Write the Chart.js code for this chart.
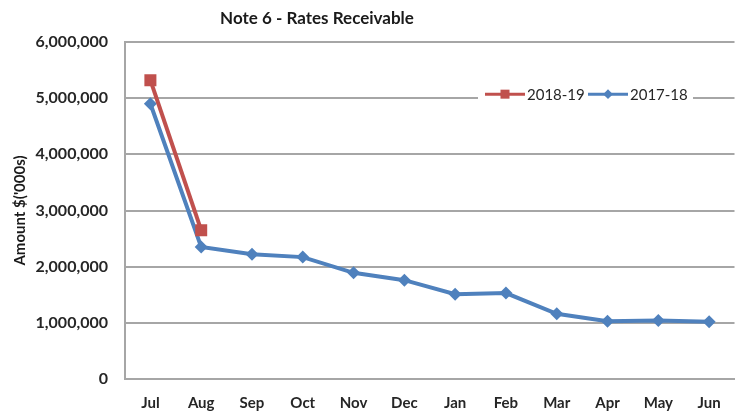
<!DOCTYPE html>
<html>
<head>
  <title>Note 6 - Rates Receivable</title>
  <script src="https://cdn.jsdelivr.net/npm/chart.js"></script>
  <style>
    body { margin: 0; background: #fff; }
    #wrap { width: 743px; height: 411px; }
  </style>
</head>
<body>
  <div id="wrap"><canvas id="ratesChart" width="743" height="411"></canvas></div>
  <script>
    const months = ['Jul', 'Aug', 'Sep', 'Oct', 'Nov', 'Dec', 'Jan', 'Feb', 'Mar', 'Apr', 'May', 'Jun'];
    const rates2018 = [5320000, 2650000, null, null, null, null, null, null, null, null, null, null];
    const rates2017 = [4900000, 2350000, 2220000, 2170000, 1890000, 1760000, 1510000, 1530000, 1160000, 1030000, 1040000, 1020000];
    const yTicks = [0, 1000000, 2000000, 3000000, 4000000, 5000000, 6000000];

    const gridGrey = '#a6a6a6';
    const red = '#c0504d';
    const blue = '#4f81bd';

    Chart.defaults.font.family = 'Lato, "Noto Sans", sans-serif';
    Chart.defaults.color = '#262626';

    // title sits left of centre and the legend sits on the 5,000,000 gridline, so both are drawn here
    const overlay = {
      id: 'overlay',
      afterDraw(chart) {
        const ctx = chart.ctx;
        ctx.save();
        ctx.fillStyle = '#1a1a1a';
        ctx.font = 'bold 17px Lato';
        ctx.textAlign = 'center';
        ctx.textBaseline = 'middle';
        ctx.fillText('Note 6 - Rates Receivable', 317, 19);

        const y = chart.scales.y.getPixelForValue(yTicks[5]) - 4;
        ctx.fillStyle = '#fff';
        ctx.fillRect(478, y - 10, 215, 20);
        let x = 485;
        ctx.font = '15px Lato';
        ctx.textAlign = 'left';
        chart.data.datasets.forEach(ds => {
          ctx.strokeStyle = ds.borderColor;
          ctx.lineWidth = 3;
          ctx.beginPath();
          ctx.moveTo(x, y);
          ctx.lineTo(x + 40, y);
          ctx.stroke();
          ctx.fillStyle = ds.backgroundColor;
          Chart.helpers.drawPoint(ctx, { pointStyle: ds.pointStyle, radius: ds.pointRadius * 0.75, borderWidth: 0 }, x + 20, y);
          ctx.fillStyle = '#262626';
          ctx.fillText(ds.label, x + 42, y + 1);
          x += 103;
        });
        ctx.restore();
      }
    };

    new Chart(document.getElementById('ratesChart'), {
      type: 'line',
      data: {
        labels: months,
        datasets: [
          {
            label: '2018-19',
            data: rates2018,
            borderColor: red,
            backgroundColor: red,
            borderWidth: 4,
            pointStyle: 'rect',
            pointRadius: 8.5,
            pointBorderWidth: 0,
            spanGaps: false
          },
          {
            label: '2017-18',
            data: rates2017,
            borderColor: blue,
            backgroundColor: blue,
            borderWidth: 4,
            pointStyle: 'rectRot',
            pointRadius: 6.5,
            pointBorderWidth: 0
          }
        ]
      },
      options: {
        responsive: false,
        animation: false,
        layout: { padding: { top: 42, right: 0, bottom: 0, left: 0 } },
        plugins: {
          legend: { display: false },
          title: { display: false },
          tooltip: { enabled: false }
        },
        scales: {
          x: {
            offset: true,
            grid: { display: false, drawTicks: false },
            border: { display: true, color: gridGrey, width: 2 },
            ticks: { padding: 15, font: { size: 15, weight: 'bold' }, color: '#262626' },
            afterFit(scale) { scale.height = 32; }
          },
          y: {
            min: 0,
            max: 6000000,
            afterBuildTicks(scale) { scale.ticks = yTicks.map(v => ({ value: v })); },
            grid: { color: gridGrey, lineWidth: 2, drawTicks: false },
            border: { display: true, color: gridGrey, width: 2 },
            ticks: {
              padding: 17,
              font: { size: 16, weight: 'bold' },
              color: '#262626',
              callback: v => v.toLocaleString('en-US')
            },
            title: {
              display: true,
              text: "Amount $('000s)",
              font: { size: 15, weight: 'bold' },
              color: '#1a1a1a',
              padding: { top: 11, bottom: 0 }
            },
            afterFit(scale) { scale.width = 125; }
          }
        }
      },
      plugins: [overlay]
    });
  </script>
</body>
</html>
